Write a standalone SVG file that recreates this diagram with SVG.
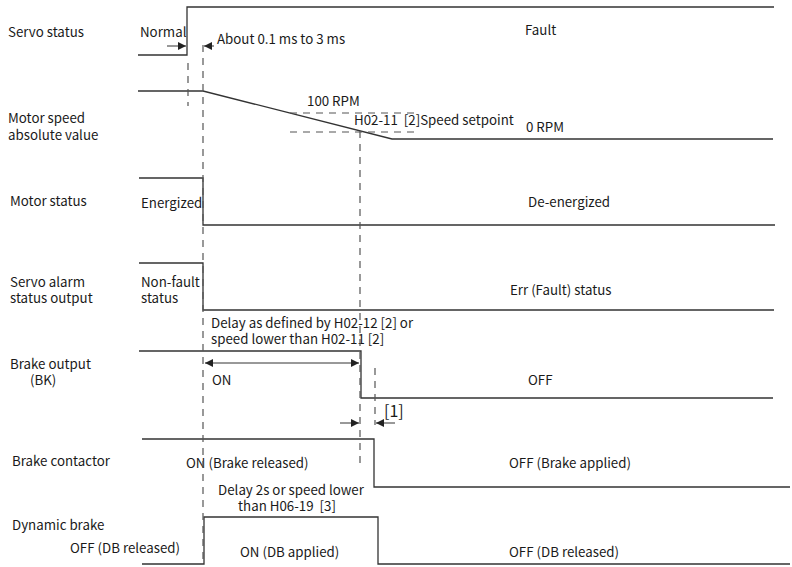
<svg xmlns="http://www.w3.org/2000/svg" width="792" height="567" viewBox="0 0 792 567">
<style>
text{font-family:"Noto Sans CJK SC","Noto Sans",sans-serif;font-size:13.3px;fill:#1a1a1a}
.w{fill:none;stroke:#333;stroke-width:1.3}
.d{fill:none;stroke:#555;stroke-width:1.2;stroke-dasharray:7 6}
.a{fill:none;stroke:#333;stroke-width:1}
.p{white-space:pre}
</style>
<defs>
<marker id="ah" viewBox="0 0 10 10" refX="10" refY="5" markerWidth="9" markerHeight="8" markerUnits="userSpaceOnUse" orient="auto-start-reverse">
<path d="M0,0 L10,5 L0,10 z" fill="#222"/>
</marker>
</defs>
<rect width="792" height="567" fill="#fff"/>
<g id="labels">
<text x="8" y="37">Servo status</text>
<text x="8" y="123">Motor speed<tspan x="8" y="140">absolute value</tspan></text>
<text x="10" y="206">Motor status</text>
<text x="10" y="287">Servo alarm<tspan x="10" y="303">status output</tspan></text>
<text x="10" y="369">Brake output<tspan x="30" y="385">(BK)</tspan></text>
<text x="12" y="466">Brake contactor</text>
<text x="12" y="530">Dynamic brake</text>
</g>
<g id="servo-status">
<polyline class="w" points="138,55 187,55 187,7 774,7"/>
<text x="140" y="37">Normal</text>
<text x="525" y="35">Fault</text>
<text x="217" y="44">About 0.1 ms to 3 ms</text>
</g>
<g id="motor-speed">
<polyline class="w" points="138,91 203,91 392,139 773,139"/>
<text x="307" y="106">100 RPM</text>
<text x="354" y="125" class="p" xml:space="preserve">H02-11  [2]Speed setpoint</text>
<text x="526" y="132">0 RPM</text>
</g>
<g id="motor-status">
<polyline class="w" points="139,178 203,178 203,225 775,225"/>
<text x="141" y="208">Energized</text>
<text x="528" y="207">De-energized</text>
</g>
<g id="servo-alarm">
<polyline class="w" points="139,263 203,263 203,310 774,310"/>
<text x="141" y="287">Non-fault<tspan x="141" y="303">status</tspan></text>
<text x="510" y="295">Err (Fault) status</text>
</g>
<g id="brake-output">
<polyline class="w" points="139,351 361,351 361,398 773,398"/>
<text x="211" y="328">Delay as defined by H02-12 [2] or<tspan x="211" y="344">speed lower than H02-11 [2]</tspan></text>
<text x="212" y="385">ON</text>
<text x="528" y="385">OFF</text>
</g>
<g id="brake-contactor">
<polyline class="w" points="142,439 374,439 374,487 790,487"/>
<text x="186" y="468">ON (Brake released)</text>
<text x="509" y="468">OFF (Brake applied)</text>
<text x="384" y="417" style="font-size:16px">[1]</text>
</g>
<g id="dynamic-brake">
<polyline class="w" points="142,564 204,564 204,517 378,517 378,564 790,564"/>
<text x="291" y="495" text-anchor="middle" class="p" xml:space="preserve">Delay 2s or speed lower<tspan x="287" y="511">than H06-19  [3]</tspan></text>
<text x="240" y="557">ON (DB applied)</text>
<text x="70" y="553">OFF (DB released)</text>
<text x="509" y="557">OFF (DB released)</text>
</g>
<g id="connectors">
<line class="d" x1="188" y1="63" x2="188" y2="106"/>
<line class="d" x1="203" y1="45" x2="203" y2="564"/>
<line class="d" x1="290" y1="113" x2="418" y2="113"/>
<line class="d" x1="290" y1="132" x2="418" y2="132"/>
<line class="d" x1="360" y1="131" x2="360" y2="463"/>
<line class="d" x1="375" y1="368" x2="375" y2="425"/>
<line class="a" x1="167" y1="46" x2="186" y2="46" marker-end="url(#ah)"/>
<line class="a" x1="214" y1="46" x2="204" y2="46" marker-end="url(#ah)"/>
<line class="a" x1="205" y1="363" x2="359" y2="363" marker-start="url(#ah)" marker-end="url(#ah)"/>
<line class="a" x1="340" y1="423" x2="359" y2="423" marker-end="url(#ah)"/>
<line class="a" x1="395" y1="423" x2="376" y2="423" marker-end="url(#ah)"/>
</g>
</svg>
